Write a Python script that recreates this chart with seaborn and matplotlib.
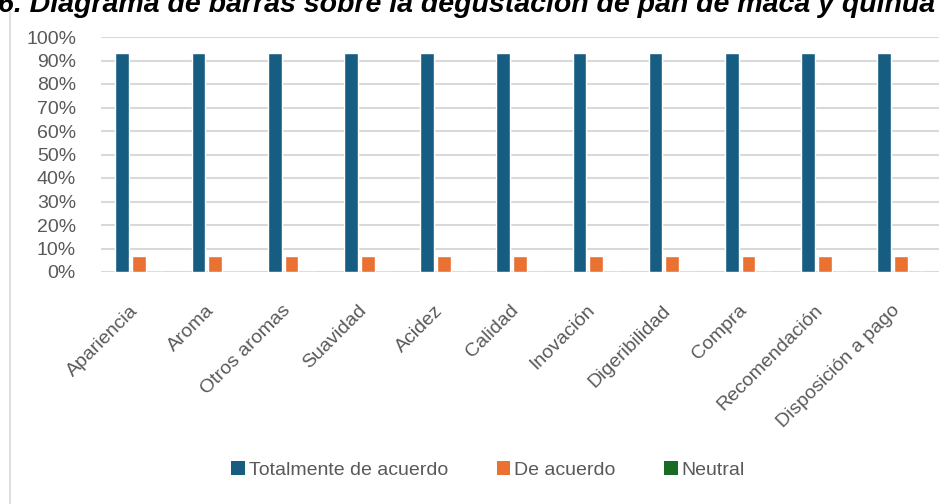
import pandas as pd
import numpy as np
import matplotlib.pyplot as plt
import matplotlib.transforms as mtransforms
import seaborn as sns
from matplotlib.lines import Line2D
from matplotlib.patches import Patch

# datos
categorias = ["Apariencia", "Aroma", "Otros aromas", "Suavidad", "Acidez", "Calidad",
              "Inovación", "Digeribilidad", "Compra", "Recomendación", "Disposición a pago"]
totalmente = [0.933, 0.933, 0.933, 0.933, 0.933, 0.933, 0.933, 0.933, 0.933, 0.933, 0.933]
de_acuerdo = [0.067, 0.067, 0.067, 0.067, 0.067, 0.067, 0.067, 0.067, 0.067, 0.067, 0.067]
neutral = [0, 0, 0, 0, 0, 0, 0, 0, 0, 0, 0]
series = ["Totalmente de acuerdo", "De acuerdo", "Neutral"]
colores = ["#175d82", "#e97132", "#196b24"]
titulo = "6. Diagrama de barras sobre la degustación de pan de maca y quinua"

df = pd.DataFrame({
    "Categoria": categorias * 3,
    "Valor": totalmente + de_acuerdo + neutral,
    "Serie": [series[0]] * 11 + [series[1]] * 11 + [series[2]] * 11,
})

sns.set_theme(style="white")
plt.rcParams["font.family"] = ["Liberation Sans", "DejaVu Sans"]

fig = plt.figure(figsize=(9.51, 5.04), dpi=100)
ax = fig.add_axes([101 / 951, 1 - 272 / 504, 838 / 951, 235 / 504])

sns.barplot(data=df, x="Categoria", y="Valor", hue="Serie", palette=colores,
            width=0.66, gap=0.18, ax=ax, legend=False, saturation=1)

ax.set_ylim(0, 1)
ax.set_xlim(-0.5, 10.5)
ax.set_yticks(np.arange(0, 1.01, 0.1))
ax.set_yticklabels([f"{int(round(v * 100))}%" for v in np.arange(0, 1.01, 0.1)],
                   fontsize=14, color="#595959")
ax.yaxis.grid(True, color="#d9d9d9", linewidth=1.5)
ax.set_axisbelow(True)
for s in ax.spines.values():
    s.set_visible(False)
ax.tick_params(axis="y", length=0, pad=18)
ax.tick_params(axis="x", length=0, pad=0)
ax.set_xticks(range(len(categorias)))
ax.set_xticklabels(categorias, rotation=45, ha="right", rotation_mode="anchor",
                   fontsize=14, color="#595959")
# mover las etiquetas hacia abajo y a la izquierda
offset = mtransforms.ScaledTranslation(-10 / 100, -30 / 100, fig.dpi_scale_trans)
for lab in ax.get_xticklabels():
    lab.set_transform(lab.get_transform() + offset)
ax.set_xlabel("")
ax.set_ylabel("")

# titulo recortado en la parte superior
fig.text(-0.002, 1 - 12 / 504, titulo, fontsize=20.5, fontweight="bold", fontstyle="italic",
         color="black", va="baseline", ha="left")

# borde izquierdo
fig.add_artist(Line2D([10 / 951, 10 / 951], [0, 1 - 12 / 504], color="#d9d9d9", linewidth=1.2))

handles = [Patch(facecolor=c, edgecolor="none") for c in colores]
fig.legend(handles, series, loc="center", bbox_to_anchor=(488 / 951, 1 - 470 / 504),
           ncol=3, frameon=False, fontsize=14, handlelength=0.7, handleheight=0.7,
           handletextpad=0.2, columnspacing=2.5, labelcolor="#595959")

fig.savefig("out.png", dpi=100)
